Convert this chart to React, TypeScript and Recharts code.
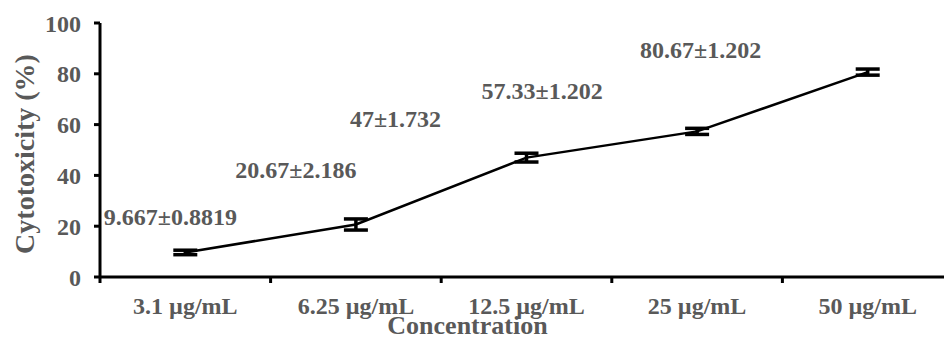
import React from "react";
import { ComposedChart, Line, XAxis, YAxis, ErrorBar, LabelList, Label } from "recharts";

const CATEGORIES = ["3.1 µg/mL", "6.25 µg/mL", "12.5 µg/mL", "25 µg/mL", "50 µg/mL"];
const CYTOTOXICITY = [9.667, 20.67, 47, 57.33, 80.67];
const SEM = [0.8819, 2.186, 1.732, 1.202, 1.202];
const Y_TICKS = [0, 20, 40, 60, 80, 100];

// where each value label sits relative to its point (the labels were dragged in the original)
const LABEL_SHIFT = [
  [-15, -27],
  [-60, -46],
  [-131, -31],
  [-155, -32],
  [-167, -14],
];

const FONT = "'Liberation Serif', 'Times New Roman', serif";
const GREY = "#595959";

const data = CATEGORIES.map((name, i) => ({
  name,
  slot: i + 0.5,
  value: CYTOTOXICITY[i],
  sem: SEM[i],
}));

// ticks at the band edges get a tick mark, ticks at band centres get the category text
const xTicks = [0, ...CATEGORIES.flatMap((_, i) => [i + 0.5, i + 1])];

const XTick = (props: any) => {
  const { x, y, payload } = props;
  const v = payload.value;
  if (Number.isInteger(v)) {
    return <line x1={x} x2={x} y1={y - 20} y2={y - 14} stroke="#000" strokeWidth={3} />;
  }
  return (
    <text x={x} y={y} dy="0.71em" textAnchor="middle" fill={GREY} fontFamily={FONT} fontWeight="bold" fontSize={24}>
      {CATEGORIES[Math.floor(v)]}
    </text>
  );
};

const ValueLabel = (props: any) => {
  const { x, y, index } = props;
  const [dx, dy] = LABEL_SHIFT[index];
  return (
    <text x={x + dx} y={y + dy} textAnchor="middle" fill={GREY} fontFamily={FONT} fontWeight="bold" fontSize={24}>
      {`${CYTOTOXICITY[index]}±${SEM[index]}`}
    </text>
  );
};

export default function App() {
  return (
    <div style={{ position: "absolute", left: 0, top: 0, width: 944, height: 338, overflow: "hidden", background: "#fff" }}>
      <ComposedChart width={960} height={338} data={data} margin={{ top: 23, right: 7, bottom: 0, left: 0 }}>
        <XAxis
          dataKey="slot"
          type="number"
          domain={[0, 5]}
          ticks={xTicks}
          interval={0}
          tick={<XTick />}
          tickLine={false}
          tickSize={6}
          tickMargin={14}
          height={61}
          axisLine={{ stroke: "#000", strokeWidth: 3 }}
        >
          <Label
            content={(p: any) => (
              <text
                x={p.viewBox.x + p.viewBox.width / 2 - 59}
                y={p.viewBox.y + 57}
                textAnchor="middle"
                fill={GREY}
                fontFamily={FONT}
                fontWeight="bold"
                fontSize={26}
              >
                Concentration
              </text>
            )}
          />
        </XAxis>
        <YAxis
          domain={[0, 100]}
          ticks={Y_TICKS}
          interval={0}
          width={100}
          tickSize={6}
          tickMargin={13}
          tickLine={{ stroke: "#000", strokeWidth: 3 }}
          axisLine={{ stroke: "#000", strokeWidth: 3 }}
          tick={{ fill: GREY, fontFamily: FONT, fontWeight: "bold", fontSize: 24 }}
        >
          <Label
            content={(p: any) => {
              const cx = p.viewBox.x + 24;
              const cy = p.viewBox.y + p.viewBox.height / 2 + 4;
              return (
                <text
                  x={cx}
                  y={cy}
                  transform={`rotate(-90 ${cx} ${cy})`}
                  textAnchor="middle"
                  dominantBaseline="central"
                  fill={GREY}
                  fontFamily={FONT}
                  fontWeight="bold"
                  fontSize={28}
                >
                  Cytotoxicity (%)
                </text>
              );
            }}
          />
        </YAxis>
        <Line
          dataKey="value"
          stroke="#000"
          strokeWidth={2.5}
          dot={false}
          isAnimationActive={false}
        >
          <ErrorBar dataKey="sem" width={12} stroke="#000" strokeWidth={3.5} direction="y" />
          <LabelList dataKey="value" content={<ValueLabel />} />
        </Line>
      </ComposedChart>
    </div>
  );
}
